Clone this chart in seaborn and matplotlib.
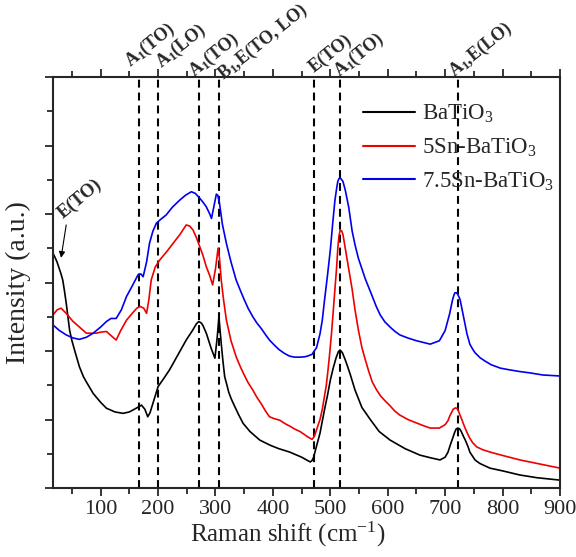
import matplotlib
matplotlib.use("Agg")
import matplotlib.pyplot as plt
import seaborn as sns
import pandas as pd

# ---------------- data ----------------
bt_x = [17, 20, 24, 28, 31, 34, 37, 40, 43, 46, 50, 55, 63, 70, 75, 87, 100, 110, 125, 139, 150,
        162, 171, 177, 182, 186, 191, 200, 210, 220, 235, 249, 260, 267, 271, 275, 278, 284, 292,
        299, 303, 306, 308, 310, 313, 316, 320, 323, 327, 331, 340, 348, 360, 377, 395, 410, 429,
        450, 465, 468, 471, 474, 478, 482, 486, 490, 495, 500, 505, 510, 514, 517, 521, 526, 530,
        535, 543, 555, 570, 585, 604, 630, 656, 675, 691, 700, 705, 709, 713, 716, 719, 722, 725,
        728, 732, 735, 740, 743, 748, 752, 760, 765, 778, 800, 830, 860, 900]
bt_y = [6.85, 6.75, 6.6, 6.4, 6.25, 6.07, 5.75, 5.4, 5.0, 4.6, 4.3, 4.0, 3.54, 3.25, 3.1, 2.76,
        2.5, 2.33, 2.22, 2.18, 2.22, 2.33, 2.42, 2.3, 2.08, 2.2, 2.47, 2.96, 3.2, 3.45, 3.9, 4.32,
        4.6, 4.8, 4.86, 4.82, 4.75, 4.52, 4.1, 3.79, 4.4, 5.0, 4.6, 4.22, 3.7, 3.25, 3.0, 2.8,
        2.62, 2.47, 2.15, 1.89, 1.65, 1.4, 1.25, 1.15, 1.05, 0.9, 0.76, 0.8, 0.9, 1.1, 1.35,
        1.6, 1.95, 2.3, 2.7, 3.15, 3.5, 3.8, 3.98, 4.03, 3.95, 3.74, 3.55, 3.3, 2.86, 2.35, 1.99,
        1.65, 1.4, 1.15, 0.96, 0.88, 0.82, 0.9, 1.05, 1.26, 1.45, 1.6, 1.72, 1.75, 1.73, 1.65,
        1.5, 1.4, 1.2, 1.05, 0.92, 0.82, 0.72, 0.68, 0.58, 0.5, 0.38, 0.3, 0.23]

sn5_x = [17, 24, 31, 40, 52, 63, 75, 92, 100, 110, 118, 127, 135, 145, 155, 163, 169, 175, 180,
         184, 188, 195, 203, 215, 226, 238, 249, 255, 261, 267, 272.5, 278, 284, 290, 295, 300,
         304.5, 307, 310, 314, 319, 327, 336, 343, 350, 357, 365, 372, 380, 387, 394, 403, 412,
         421, 430, 438, 447, 455, 460, 468, 472, 478, 482, 486, 489, 493, 496, 499, 502, 505, 508,
         511, 513, 515, 517, 520, 522, 526, 529, 532, 535, 538, 543, 549, 555, 561, 567, 573, 580,
         587, 595, 604, 612, 621, 635, 650, 662, 674, 690, 700, 705, 708, 711, 714, 718, 721, 723,
         726, 729, 733, 736, 740, 743, 748, 755, 765, 778, 800, 830, 865, 900]
sn5_y = [5.05, 5.2, 5.25, 5.1, 4.86, 4.7, 4.52, 4.52, 4.55, 4.57, 4.45, 4.32, 4.6, 4.9, 5.1,
         5.25, 5.3, 5.25, 5.1, 5.5, 6.07, 6.45, 6.66, 6.9, 7.14, 7.4, 7.68, 7.65, 7.53, 7.3,
         7.05, 6.8, 6.46, 6.2, 5.93, 6.4, 7.0, 6.7, 6.07, 5.5, 4.9, 4.3, 3.83, 3.55, 3.3, 3.07,
         2.86, 2.65, 2.45, 2.25, 2.08, 2.02, 1.98, 1.88, 1.8, 1.72, 1.65, 1.56, 1.5, 1.42, 1.5,
         1.8, 2.0, 2.3, 2.6, 3.0, 3.45, 3.95, 4.5, 5.15, 5.8, 6.45, 7.0, 7.35, 7.53, 7.5, 7.4,
         7.0, 6.7, 6.4, 6.1, 5.8, 5.2, 4.6, 4.1, 3.74, 3.4, 3.1, 2.88, 2.7, 2.55, 2.4, 2.25, 2.13,
         2.0, 1.9, 1.82, 1.75, 1.75, 1.85, 1.97, 2.1, 2.2, 2.3, 2.34, 2.32, 2.25, 2.12, 2.0, 1.82,
         1.7, 1.55, 1.45, 1.32, 1.2, 1.12, 1.05, 0.95, 0.82, 0.7, 0.58]

sn75_x = [17, 28, 40, 52, 63, 75, 87, 100, 110, 118, 127, 136, 145, 155, 165, 170, 174, 180, 185,
          191, 197, 205, 214, 225, 238, 248, 258, 265, 272.5, 278, 284, 290, 293, 297, 301.5, 304,
          307, 312, 319, 327, 336, 343, 350, 357, 365, 372, 380, 387, 394, 402, 410, 420, 429, 438,
          447, 455, 460, 468, 476, 482, 486, 490, 495, 500, 504, 508, 511, 513, 515, 517, 519, 522,
          526, 529, 532, 535, 538, 543, 549, 555, 561, 567, 573, 580, 587, 595, 604, 612, 621, 635,
          650, 662, 674, 690, 700, 704, 708, 711, 713, 715, 717, 720, 722, 724, 726, 729, 732,
          735, 738, 743, 748, 752, 761, 770, 780, 796, 812, 830, 848, 870, 900]
sn75_y = [4.76, 4.6, 4.47, 4.38, 4.34, 4.4, 4.52, 4.7, 4.86, 4.95, 4.95, 5.2, 5.59, 5.9, 6.22,
          6.25, 6.17, 6.6, 7.14, 7.5, 7.73, 7.85, 7.97, 8.2, 8.41, 8.55, 8.65, 8.6, 8.46, 8.35,
          8.21, 8.0, 7.87, 8.2, 8.58, 8.55, 8.31, 7.7, 7.14, 6.6, 6.07, 5.78, 5.5, 5.24, 5.0, 4.82,
          4.65, 4.48, 4.32, 4.18, 4.05, 3.93, 3.85, 3.82, 3.82, 3.83, 3.85, 3.9, 4.1, 4.5, 4.9,
          5.5, 6.2, 6.95, 7.7, 8.4, 8.75, 8.95, 9.03, 9.05, 9.02, 8.95, 8.7, 8.45, 8.2, 7.85, 7.5,
          7.1, 6.7, 6.4, 6.1, 5.85, 5.6, 5.3, 5.05, 4.85, 4.7, 4.58, 4.47, 4.38, 4.3, 4.25, 4.2,
          4.3, 4.6, 4.85, 5.1, 5.35, 5.5, 5.62, 5.7, 5.7, 5.65, 5.58, 5.5, 5.25, 5.0, 4.75, 4.5,
          4.2, 4.05, 3.95, 3.8, 3.7, 3.6, 3.5, 3.45, 3.4, 3.36, 3.3, 3.27]

series_names = ["BaTiO$_3$", "5Sn-BaTiO$_3$", "7.5Sn-BaTiO$_3$"]
series_colors = ["#000000", "#ee0000", "#0000ee"]

mode_x = [167, 199, 271, 306, 472, 517, 723]
mode_labels = [r"A$_\mathbf{1}$(TO)", r"A$_\mathbf{1}$(LO)", r"A$_\mathbf{1}$(TO)",
               r"B$_\mathbf{1}$,E(TO, LO)", "E(TO)", r"A$_\mathbf{1}$(TO)",
               r"A$_\mathbf{1}$,E(LO)"]
# label offsets (pixels) of baseline start relative to line top
mode_dx = [-9, 4, -5, 4, 0, -1, -4]
mode_dy = [10, 9, 0, -3, 4, 0, 0]

x_ticks = [100, 200, 300, 400, 500, 600, 700, 800, 900]

# ---------------- figure ----------------
sns.set_style("ticks")
plt.rcParams["font.family"] = ["Liberation Serif", "DejaVu Serif"]
plt.rcParams["mathtext.fontset"] = "custom"
plt.rcParams["mathtext.rm"] = "Liberation Serif"
plt.rcParams["mathtext.it"] = "Liberation Serif"
plt.rcParams["mathtext.bf"] = "Liberation Serif:bold"

fig = plt.figure(figsize=(5.76, 5.57), dpi=100)
ax = fig.add_axes([53 / 576, 1 - 488 / 557, 507 / 576, 411 / 557])

frames = []
for xs, ys, name in zip([bt_x, sn5_x, sn75_x], [bt_y, sn5_y, sn75_y], series_names):
    frames.append(pd.DataFrame({"x": xs, "y": ys, "sample": name}))
df = pd.concat(frames, ignore_index=True)

sns.lineplot(data=df, x="x", y="y", hue="sample", hue_order=series_names,
             palette=series_colors, sort=False, estimator=None, lw=1.2, ax=ax)

for xv in mode_x:
    ax.axvline(xv, color="black", lw=1.5, ls=(0, (3.8, 2.4)), zorder=1)

px2pt = 72 / 100
for xv, lab, dx, dy in zip(mode_x, mode_labels, mode_dx, mode_dy):
    ax.annotate(lab, xy=(xv, 1.0), xycoords=("data", "axes fraction"),
                xytext=(dx * px2pt, dy * px2pt), textcoords="offset points",
                rotation=39, rotation_mode="anchor", ha="left", va="baseline",
                fontsize=13, fontweight="bold", annotation_clip=False)

# E(TO) arrow annotation at the left
ax.annotate("", xy=(31, 6.72), xytext=(40, 7.68),
            arrowprops=dict(arrowstyle="-|>", lw=0.8, color="black", mutation_scale=9,
                            shrinkA=0, shrinkB=0))
ax.text(35, 7.85, "E(TO)", rotation=40, rotation_mode="anchor", ha="left", va="baseline",
        fontsize=13.5, fontweight="bold")

ax.set_xlim(17, 900)
ax.set_ylim(0, 12)
ax.set_xticks(x_ticks)
ax.set_xticks([50, 150, 250, 350, 450, 550, 650, 750, 850], minor=True)
ax.set_yticks([0, 2, 4, 6, 8, 10, 12])
ax.set_yticks([1, 3, 5, 7, 9, 11], minor=True)
ax.set_yticklabels([])
ax.tick_params(axis="x", which="both", direction="out", top=True, bottom=True,
               labelsize=16, width=1.3, pad=3)
ax.tick_params(axis="y", which="both", direction="out", left=True, right=False, width=1.3)
ax.tick_params(which="major", length=6)
ax.tick_params(which="minor", length=4)
for sp in ax.spines.values():
    sp.set_visible(True)
    sp.set_linewidth(1.5)

ax.set_xlabel("Raman shift (cm$^{-1}$)", fontsize=18, labelpad=2)
ax.set_ylabel("Intensity (a.u.)", fontsize=20, labelpad=6)
ax.xaxis.set_label_coords(0.463, -0.078)

leg = ax.legend(loc="upper left", bbox_to_anchor=(0.611, 0.937), frameon=False,
                fontsize=16.5, handlelength=2.3, handletextpad=0.3, borderpad=0,
                borderaxespad=0, labelspacing=0.5)
for h in leg.get_lines():
    h.set_linewidth(1.5)

fig.savefig("out.png", dpi=100)
